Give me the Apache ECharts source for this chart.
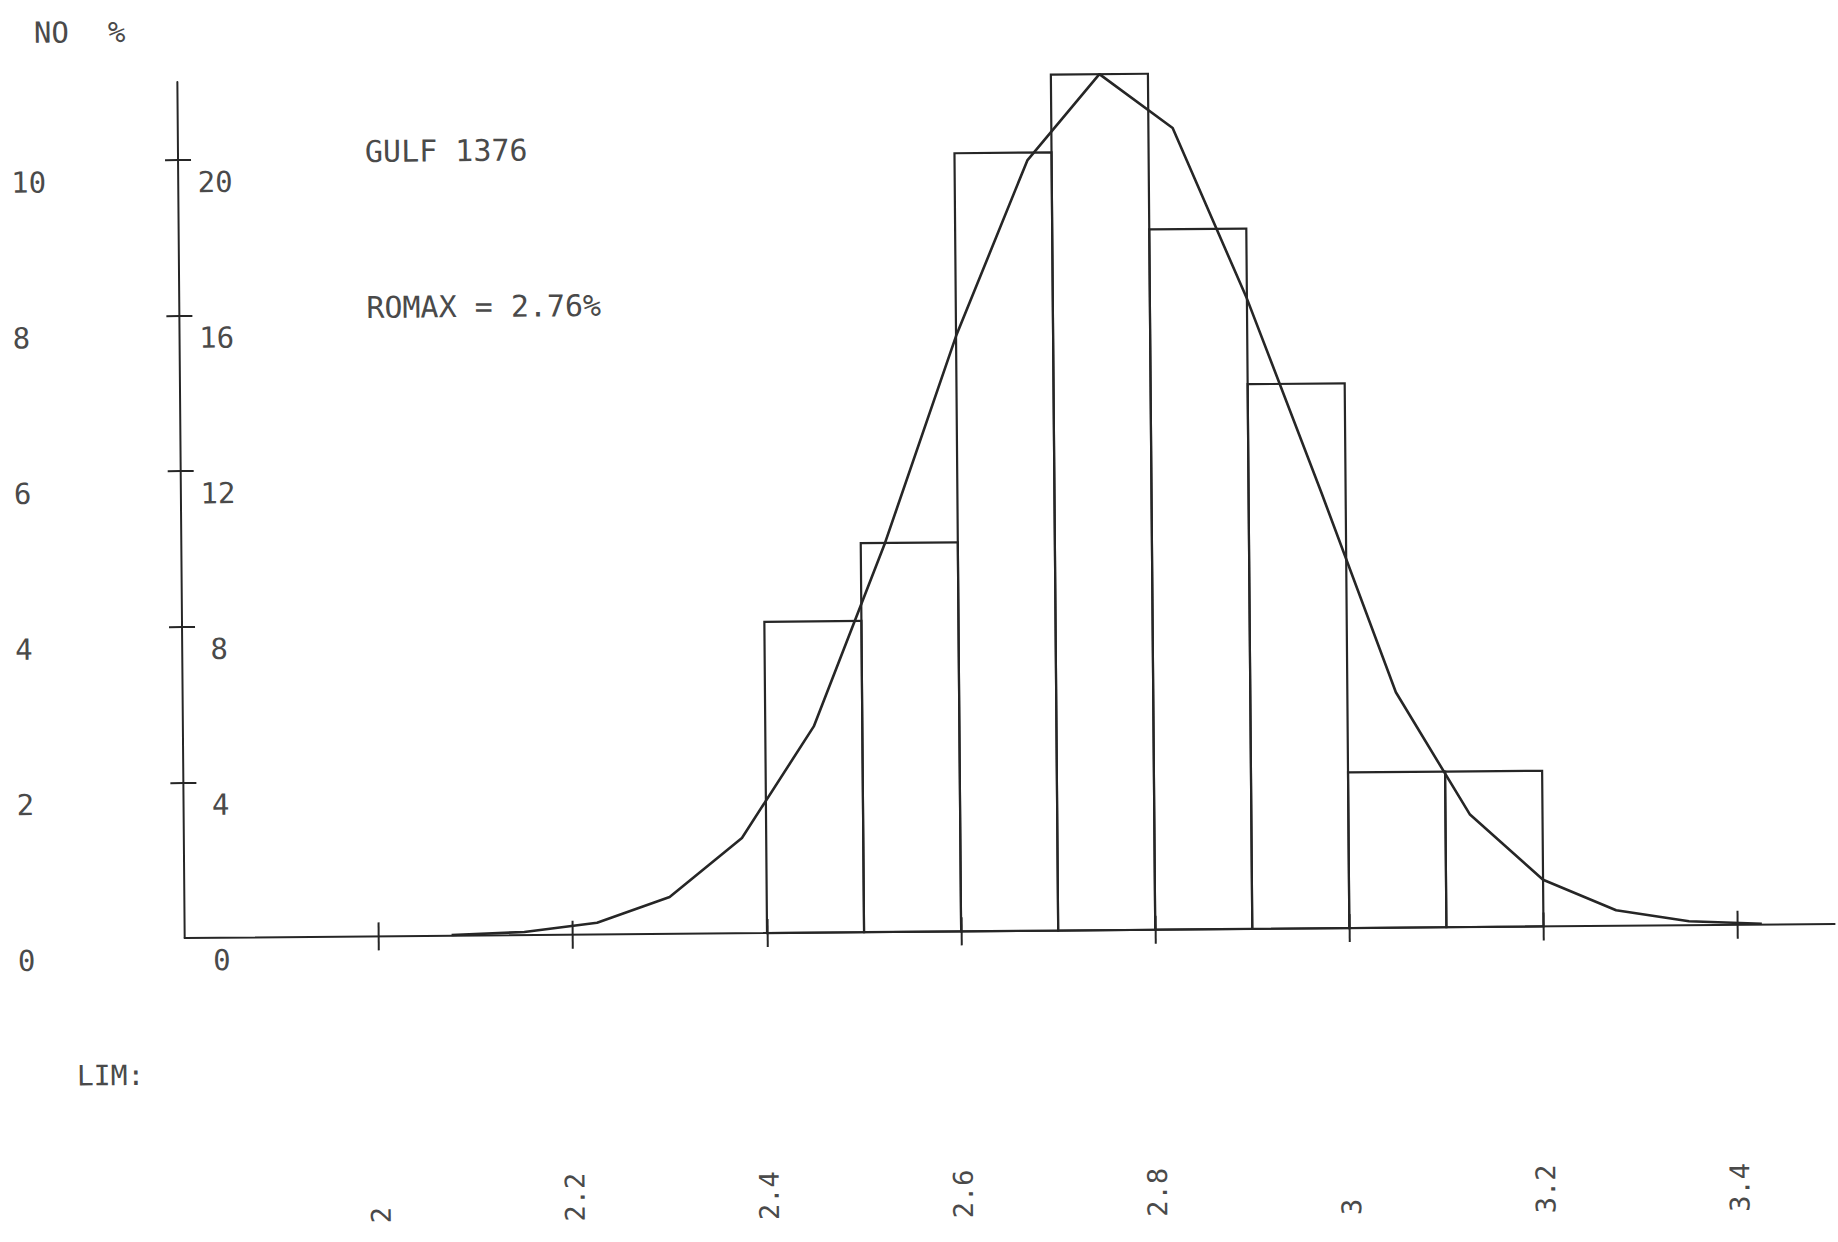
<!DOCTYPE html>
<html>
<head>
<meta charset="utf-8">
<title>GULF 1376</title>
<script src="https://cdn.jsdelivr.net/npm/echarts@6/dist/echarts.min.js"></script>
<style>
  html, body { margin: 0; padding: 0; background: #ffffff; overflow: hidden; }
  /* the plotter sheet sits very slightly askew */
  #chart {
    width: 1838px; height: 1242px;
    transform: rotate(-0.49deg);
    transform-origin: 888px 621px;
  }
  #chart svg text { font-feature-settings: "zero" 1; }
</style>
</head>
<body>
<div id="chart"></div>
<script>
// Reflectance histogram (0.1 % classes) with fitted curve
const binEdges = [2.4, 2.5, 2.6, 2.7, 2.8, 2.9, 3.0, 3.1, 3.2];
const binCounts = [4, 5, 10, 11, 9, 7, 2, 2];

// fitted curve, in percent of readings per class
const curveX = [2.075, 2.15, 2.225, 2.3, 2.375, 2.45, 2.525, 2.6, 2.675, 2.75,
                2.825, 2.9, 2.975, 3.05, 3.125, 3.2, 3.275, 3.35, 3.425];
const curvePct = [0.02, 0.08, 0.3, 0.95, 2.45, 5.3, 10.0, 15.3, 19.8, 22.0,
                  20.6, 16.2, 11.2, 6.05, 2.9, 1.2, 0.4, 0.1, 0.02];

// axis ticks and labels
const xTicks = [2.0, 2.2, 2.4, 2.6, 2.8, 3.0, 3.2, 3.4];
const pctTicks = [0, 4, 8, 12, 16, 20];
const countTicks = [0, 2, 4, 6, 8, 10];

const titleText = 'GULF 1376';
const romaxText = 'ROMAX = 2.76%';
const countAxisName = 'NO';
const pctAxisName = '%';
const limText = 'LIM:';

const FONT = '"DejaVu Sans Mono", "Liberation Mono", monospace';
const INK = '#262626';
const TEXT = '#4a4a4a';

const chart = echarts.init(document.getElementById('chart'), null, { renderer: 'svg' });

const bars = binCounts.map((c, i) => [binEdges[i], binEdges[i + 1], c]);
const curve = curveX.map((x, i) => [x, curvePct[i]]);

const labelStyle = { color: TEXT, fontFamily: FONT, fontSize: 29 };

chart.setOption({
  animation: false,
  backgroundColor: '#ffffff',
  grid: { left: 182, right: 6, top: 76, bottom: 310, containLabel: false },
  xAxis: [
    {
      type: 'value', min: 1.8, max: 3.5, position: 'bottom',
      axisLine: { show: true, lineStyle: { color: INK, width: 2 } },
      axisTick: { show: true, customValues: xTicks, length: 14, lineStyle: { color: INK, width: 2 } },
      axisLabel: {
        show: true, customValues: xTicks, rotate: 90, align: 'left', verticalAlign: 'middle',
        margin: 287, color: TEXT, fontFamily: FONT, fontSize: 27,
        formatter: v => String(+(+v).toFixed(1))
      },
      splitLine: { show: false }
    },
    {
      type: 'value', min: 1.8, max: 3.5, position: 'bottom',
      axisLine: { show: false },
      axisTick: { show: true, inside: true, customValues: xTicks, length: 14, lineStyle: { color: INK, width: 2 } },
      axisLabel: { show: false },
      splitLine: { show: false }
    }
  ],
  yAxis: [
    {
      // percent scale, labels right of the axis
      type: 'value', min: 0, max: 22, position: 'left',
      axisLine: { show: true, lineStyle: { color: INK, width: 2 } },
      axisTick: { show: true, inside: true, customValues: [4, 8, 12, 16, 20], length: 13, lineStyle: { color: INK, width: 2 } },
      axisLabel: Object.assign({
        show: true, inside: true, customValues: pctTicks, margin: 37,
        align: 'center', verticalAlign: 'top', padding: [8, 0, 0, 0]
      }, labelStyle),
      splitLine: { show: false }
    },
    {
      // count scale, labels at the far left
      type: 'value', min: 0, max: 11, position: 'left',
      axisLine: { show: false },
      axisTick: { show: true, customValues: [2, 4, 6, 8, 10], length: 13, lineStyle: { color: INK, width: 2 } },
      axisLabel: Object.assign({
        show: true, customValues: countTicks, margin: 167,
        align: 'left', verticalAlign: 'top', padding: [7, 0, 0, 0]
      }, labelStyle),
      splitLine: { show: false }
    }
  ],
  graphic: [
    { type: 'text', left: 39, top: 11, style: { text: countAxisName, fill: TEXT, font: '29px ' + FONT } },
    { type: 'text', left: 113, top: 11, style: { text: pctAxisName, fill: TEXT, font: '29px ' + FONT } },
    { type: 'text', left: 369, top: 132, style: { text: titleText, fill: TEXT, font: '30px ' + FONT } },
    { type: 'text', left: 369, top: 288, style: { text: romaxText, fill: TEXT, font: '30px ' + FONT } },
    { type: 'text', left: 73, top: 1055, style: { text: limText, fill: TEXT, font: '28px ' + FONT } }
  ],
  series: [
    {
      type: 'custom',
      name: 'classes',
      xAxisIndex: 0,
      yAxisIndex: 1,
      data: bars,
      encode: { x: [0, 1], y: 2 },
      renderItem: function (params, api) {
        const p0 = api.coord([api.value(0), 0]);
        const p1 = api.coord([api.value(1), api.value(2)]);
        return {
          type: 'rect',
          shape: { x: p0[0], y: p1[1], width: p1[0] - p0[0], height: p0[1] - p1[1] },
          style: { fill: 'none', stroke: INK, lineWidth: 2.2 }
        };
      },
      z: 2
    },
    {
      type: 'line',
      name: 'fit',
      xAxisIndex: 0,
      yAxisIndex: 0,
      data: curve,
      showSymbol: false,
      smooth: false,
      lineStyle: { color: INK, width: 2.6 },
      z: 3
    }
  ]
});
</script>
</body>
</html>
